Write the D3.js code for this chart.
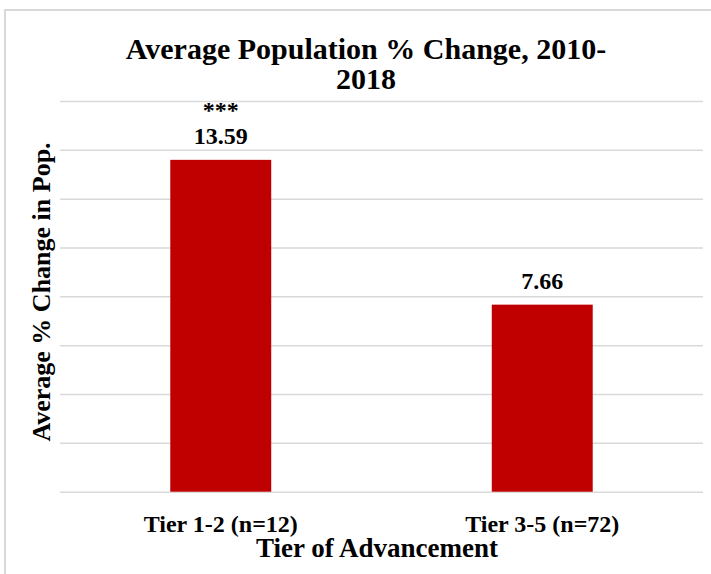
<!DOCTYPE html>
<html>
<head>
<meta charset="utf-8">
<script src="https://cdn.jsdelivr.net/npm/d3@7"></script>
<style>
  html, body { margin: 0; padding: 0; background: #fff; }
  svg { display: block; }
  text { font-family: "Liberation Serif", "Times New Roman", serif; font-weight: bold; fill: #000; }
</style>
</head>
<body>
<svg id="chart" width="711" height="574"></svg>
<script>
const categories = ["Tier 1-2 (n=12)", "Tier 3-5 (n=72)"];
const values = [13.59, 7.66];
const valueLabels = ["13.59", "7.66"];
const significance = ["***", ""];
const yTicks = [0, 2, 4, 6, 8, 10, 12, 14, 16];
const titleLines = ["Average Population % Change, 2010-", "2018"];
const yTitle = "Average % Change in Pop.";
const xTitle = "Tier of Advancement";

const W = 711, H = 574;
const margin = { left: 60, right: 8, top: 101, bottom: 83 };
const svg = d3.select("#chart");

// outer chart border
svg.append("rect")
  .attr("x", 5).attr("y", 10)
  .attr("width", W + 20).attr("height", H + 20)
  .attr("fill", "#fff").attr("stroke", "#d9d9d9").attr("stroke-width", 2);

const x = d3.scaleBand().domain(categories)
  .range([margin.left, W - margin.right])
  .paddingInner(0.686).paddingOuter(0.343);
const y = d3.scaleLinear().domain([0, 16]).range([H - margin.bottom + 0.7, margin.top]);

// gridlines
const yAxis = d3.axisLeft(y).tickValues(yTicks).tickSize(-(W - margin.right - margin.left)).tickFormat("");
const gy = svg.append("g").attr("transform", `translate(${margin.left},0)`).call(yAxis);
gy.select(".domain").remove();
gy.selectAll(".tick line").attr("stroke", "#d9d9d9").attr("stroke-width", 1.5);

// bars
svg.append("g").selectAll("rect").data(values).join("rect")
  .attr("x", (d, i) => x(categories[i]))
  .attr("width", x.bandwidth())
  .attr("y", d => y(d))
  .attr("height", d => y(0) - y(d))
  .attr("fill", "#c00000");

// value labels (significance stars on the line above the value)
const lbl = svg.append("g").selectAll("text").data(values).join("text")
  .attr("text-anchor", "middle")
  .attr("font-size", 24);
lbl.each(function(d, i) {
  const cx = x(categories[i]) + x.bandwidth() / 2;
  const t = d3.select(this);
  if (significance[i]) {
    t.append("tspan").attr("x", cx).attr("y", y(d) - 42).text(significance[i]);
  }
  t.append("tspan").attr("x", cx).attr("y", y(d) - 16).text(valueLabels[i]);
});

// x axis category labels
const xAxis = d3.axisBottom(x).tickSize(0).tickPadding(0);
const gx = svg.append("g").attr("transform", `translate(0,${y(0)})`).call(xAxis);
gx.select(".domain").remove();
gx.selectAll(".tick text")
  .attr("y", 40).attr("dy", null)
  .attr("font-size", 24)
  .style("font-family", "'Liberation Serif', serif").style("font-weight", "bold").attr("fill", "#000");

// title
svg.append("text")
  .attr("x", 366).attr("y", 59)
  .attr("text-anchor", "middle").attr("font-size", 30)
  .selectAll("tspan").data(titleLines).join("tspan")
  .attr("x", 366).attr("dy", (d, i) => i === 0 ? 0 : 30)
  .text(d => d);

// axis titles
svg.append("text")
  .attr("x", 377).attr("y", 557)
  .attr("text-anchor", "middle").attr("font-size", 27)
  .text(xTitle);

svg.append("text")
  .attr("transform", "translate(50,292) rotate(-90)")
  .attr("text-anchor", "middle").attr("font-size", 26)
  .text(yTitle);
</script>
</body>
</html>
